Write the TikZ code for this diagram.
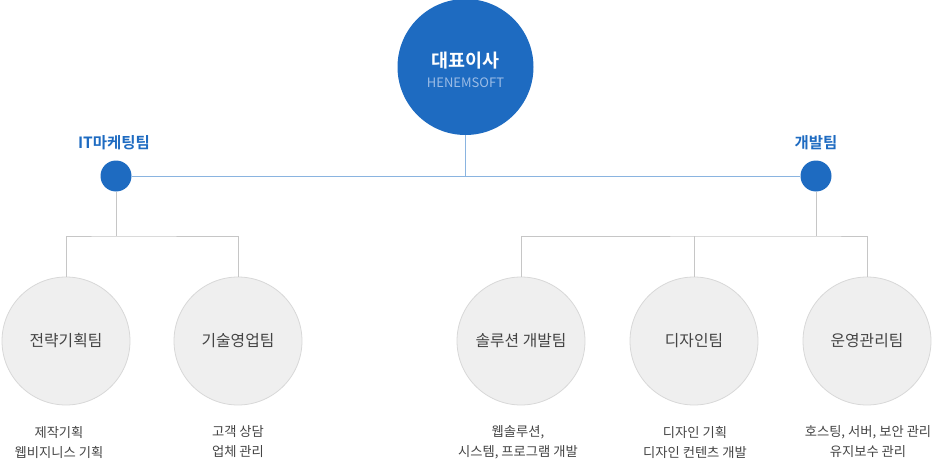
\documentclass[tikz,border=0pt]{standalone}
\usepackage{fontspec}
\setmainfont{Noto Sans CJK KR}
\newfontfamily\krb{Noto Sans CJK KR Bold}
\definecolor{mainblue}{HTML}{1E6BC1}
\definecolor{lightblue}{HTML}{8AB4E0}
\definecolor{subblue}{HTML}{9BBCE6}
\definecolor{grayline}{HTML}{C6C6C6}
\definecolor{cfill}{HTML}{EFEFEF}
\definecolor{cdraw}{HTML}{D8D8D8}
\definecolor{ctext}{HTML}{444444}
\definecolor{dtext}{HTML}{444444}
\begin{document}
\begin{tikzpicture}[x=1pt,y=-1pt,
  teamcircle/.style={circle,fill=cfill,draw=cdraw,line width=0.8pt,minimum size=128pt,inner sep=0pt,
    font=\fontsize{15.8}{19}\selectfont,text=ctext},
  dot/.style={circle,fill=mainblue,minimum size=31pt,inner sep=0pt},
  grplabel/.style={font=\krb\fontsize{15.5}{18}\selectfont,text=mainblue},
  desc/.style={font=\fontsize{13.3}{20}\selectfont,text=dtext,align=center},
  gline/.style={draw=grayline,line width=0.9pt},
  bline/.style={draw=lightblue,line width=1pt}]
\useasboundingbox (0,0) rectangle (935,460);
% top
\node[circle,fill=mainblue,minimum size=136pt,inner sep=0pt] (ceo) at (465.5,67) {};
\node[font=\krb\fontsize{18.5}{22}\selectfont,text=white] (ceot) at (465.5,61) {대표이사};
\node[font=\fontsize{13}{15}\selectfont,text=subblue] (ceos) at (465.5,83) {HENEMSOFT};
% group dots
\node[dot] (it) at (116,176) {};
\node[dot] (dev) at (816,176) {};
\node[grplabel] (itl) at (114,143) {IT마케팅팀};
\node[grplabel] (devl) at (816,143) {개발팀};
\coordinate (mid) at (465.5,176);
\path[bline] (it) -- (dev);
\path[bline] (ceo.south) -- (mid);
% team circles
\node[teamcircle] (t1) at (66,341) {전략기획팀};
\node[teamcircle] (t2) at (238,341) {기술영업팀};
\node[teamcircle] (t3) at (521,341) {솔루션 개발팀};
\node[teamcircle] (t4) at (694,341) {디자인팀};
\node[teamcircle] (t5) at (867,341) {운영관리팀};
% gray connectors
\coordinate (lb) at (116,236);
\coordinate (rb) at (816,236);
\path[gline] (it.south) -- (lb);
\path[gline] (t1.north) |- (lb) -| (t2.north);
\path[gline] (dev.south) -- (rb);
\path[gline] (t3.north) |- (rb) -| (t5.north);
\path[gline] (t4.north) -- (t4.north |- rb);
% descriptions
\node[desc] (d1) at (59,442) {제작기획\\웹비지니스 기획};
\node[desc] (d2) at (238,442) {고객 상담\\업체 관리};
\node[desc] (d3) at (518,442) {웹솔루션,\\시스템, 프로그램 개발};
\node[desc] (d4) at (695,442) {디자인 기획\\디자인 컨텐츠 개발};
\node[desc] (d5) at (868,442) {호스팅, 서버, 보안 관리\\유지보수 관리};
\end{tikzpicture}
\end{document}
